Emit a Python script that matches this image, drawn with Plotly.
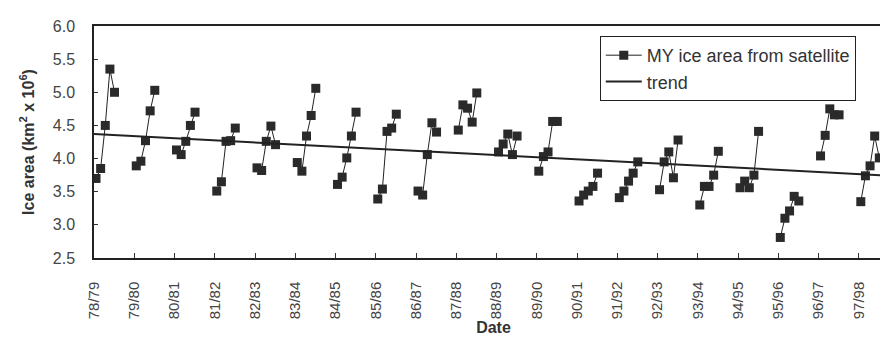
import plotly.graph_objects as go

seasons = ["78/79", "79/80", "80/81", "81/82", "82/83", "83/84", "84/85", "85/86",
           "86/87", "87/88", "88/89", "89/90", "90/91", "91/92", "92/93", "93/94",
           "94/95", "95/96", "96/97", "97/98"]

# MY ice area (km^2 x 10^6), five observations per winter season
s7879 = [3.70, 3.85, 4.50, 5.35, 5.00]
s7980 = [3.89, 3.96, 4.27, 4.72, 5.03]
s8081 = [4.13, 4.06, 4.26, 4.50, 4.70]
s8182 = [3.51, 3.65, 4.26, 4.27, 4.46]
s8283 = [3.86, 3.82, 4.26, 4.49, 4.21]
s8384 = [3.94, 3.81, 4.34, 4.65, 5.06]
s8485 = [3.61, 3.72, 4.01, 4.34, 4.70]
s8586 = [3.39, 3.54, 4.41, 4.46, 4.67]
s8687 = [3.51, 3.45, 4.06, 4.54, 4.40]
s8788 = [4.43, 4.81, 4.76, 4.55, 4.99]
s8889 = [4.10, 4.22, 4.37, 4.06, 4.34]
s8990 = [3.81, 4.03, 4.10, 4.56, 4.56]
s9091 = [3.36, 3.45, 3.51, 3.58, 3.78]
s9192 = [3.41, 3.51, 3.66, 3.78, 3.95]
s9293 = [3.53, 3.95, 4.10, 3.71, 4.28]
s9394 = [3.30, 3.58, 3.58, 3.75, 4.11]
s9495 = [3.56, 3.66, 3.56, 3.75, 4.41]
s9596 = [2.81, 3.10, 3.21, 3.43, 3.36]
s9697 = [4.04, 4.35, 4.75, 4.66, 4.66]
s9798 = [3.35, 3.74, 3.89, 4.34, 4.01]

season_values = [s7879, s7980, s8081, s8182, s8283, s8384, s8485, s8586, s8687, s8788,
                 s8889, s8990, s9091, s9192, s9293, s9394, s9495, s9596, s9697, s9798]

# linear trend end values
trend_start = 4.37
trend_end = 3.74

X_END = 19.85
xs, ys = [], []
for i, vals in enumerate(season_values):
    for k, v in enumerate(vals):
        xs.append(i + 0.05 + 0.115 * k)
        ys.append(v)
    xs.append(None)
    ys.append(None)

fig = go.Figure()
fig.add_trace(go.Scatter(
    x=xs, y=ys, mode="lines+markers", name="MY ice area from satellite",
    line=dict(color="#222222", width=1),
    marker=dict(symbol="square", size=9, color="#2a2a2a"),
    connectgaps=False,
))
fig.add_trace(go.Scatter(
    x=[0, X_END], y=[trend_start, trend_end], mode="lines", name="trend",
    line=dict(color="#222222", width=2),
))

font_family = "Liberation Sans, Arial, sans-serif"
fig.update_layout(
    width=888, height=342,
    margin=dict(l=86, r=1, t=18, b=92),
    paper_bgcolor="white", plot_bgcolor="white",
    font=dict(family=font_family, size=13, color="#333333"),
    showlegend=True,
    legend=dict(
        x=0.633, y=0.957, xanchor="left", yanchor="top",
        bordercolor="#222222", borderwidth=1, bgcolor="white",
        font=dict(size=18, color="#333333"),
        tracegroupgap=0, itemwidth=36,
    ),
    xaxis=dict(
        range=[0, X_END],
        tickmode="array", tickvals=list(range(len(seasons))), ticktext=seasons,
        tickangle=-90, ticks="inside", ticklen=5, tickcolor="#333333",
        ticklabelstandoff=16,
        showline=True, linecolor="#222222", linewidth=1.5, mirror=True,
        showgrid=False, zeroline=False,
        tickfont=dict(size=15, color="#444444"),
        title=dict(text="<b>Date</b>", font=dict(size=16, color="#333333"), standoff=4),
    ),
    yaxis=dict(
        range=[2.5, 6.0], dtick=0.5, tick0=2.5, tickformat=".1f",
        ticks="inside", ticklen=4, tickcolor="#333333",
        ticklabelstandoff=14,
        showline=True, linecolor="#222222", linewidth=1.5, mirror=True,
        showgrid=False, zeroline=False,
        tickfont=dict(size=16, color="#444444"),
        title=dict(text="<b>Ice area (km<sup>2</sup> x 10<sup>6</sup>)</b>",
                   font=dict(size=16, color="#333333"), standoff=14),
    ),
)

fig.write_html("out.html")
